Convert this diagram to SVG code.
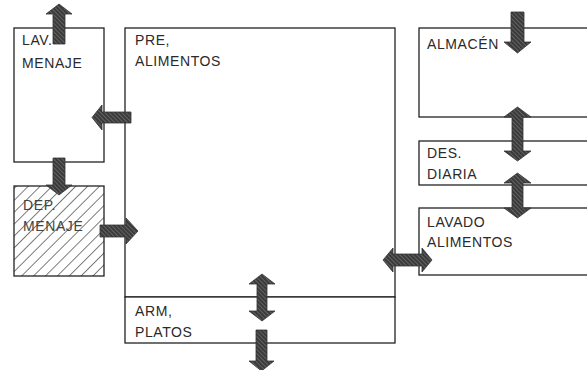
<svg xmlns="http://www.w3.org/2000/svg" width="587" height="370" viewBox="0 0 587 370">
<defs>
<pattern id="arrowFill" patternUnits="userSpaceOnUse" width="3" height="3" patternTransform="rotate(-45)">
<rect width="3" height="3" fill="#3a3a3a"/>
<line x1="0" y1="0" x2="0" y2="3" stroke="#8a8a8a" stroke-width="1"/>
</pattern>
<pattern id="hatch" patternUnits="userSpaceOnUse" width="8.4" height="8.4" patternTransform="rotate(45)">
<line x1="0" y1="0" x2="0" y2="8.4" stroke="#111" stroke-width="1.1"/>
</pattern>
</defs>
<style>
.box{fill:#fff;stroke:#222;stroke-width:1.3}
.hatched{fill:url(#hatch);stroke:#222;stroke-width:1.3}
.lbl{font-family:"Liberation Sans",Arial,sans-serif;font-size:14px;letter-spacing:0.6px;fill:#2a2a2a}
.lblg{font-family:"Liberation Sans",Arial,sans-serif;font-size:14px;letter-spacing:0.6px;fill:#444}
.arr{fill:url(#arrowFill);stroke:#333;stroke-width:0.8;stroke-linejoin:miter}
</style>
<rect width="587" height="370" fill="#fff"/>

<g id="lav-menaje">
<rect class="box" x="14" y="28" width="90" height="134"/>
<text class="lbl" x="22" y="45">LAV.</text>
<text class="lbl" x="22" y="68">MENAJE</text>
</g>

<g id="dep-menaje">
<rect fill="#fff" x="14" y="186" width="90" height="90"/>
<rect class="hatched" x="14" y="186" width="90" height="90"/>
<text class="lblg" x="23" y="210">DEP.</text>
<text class="lblg" x="23" y="231">MENAJE</text>
</g>

<g id="pre-alimentos">
<rect class="box" x="125" y="28" width="270" height="269"/>
<text class="lbl" x="135" y="45">PRE,</text>
<text class="lbl" x="135" y="66">ALIMENTOS</text>
</g>

<g id="arm-platos">
<rect class="box" x="125" y="297" width="270" height="46"/>
<text class="lbl" x="135" y="316">ARM,</text>
<text class="lbl" x="135" y="337">PLATOS</text>
</g>

<g id="almacen">
<rect class="box" x="419" y="28" width="190" height="89"/>
<text class="lbl" x="427" y="49">ALMACÉN</text>
</g>

<g id="des-diaria">
<rect class="box" x="419" y="141" width="190" height="44"/>
<text class="lbl" x="427" y="158">DES.</text>
<text class="lbl" x="427" y="179">DIARIA</text>
</g>

<g id="lavado-alimentos">
<rect class="box" x="419" y="208" width="190" height="67"/>
<text class="lbl" x="427" y="227">LAVADO</text>
<text class="lbl" x="427" y="247">ALIMENTOS</text>
</g>

<g id="connectors">
<path class="arr" d="M53,44 L53,14 L46,14 L59,4 L72,14 L65,14 L65,44 Z"/>
<path class="arr" d="M131,112 L102,112 L102,105 L92,117.5 L102,130 L102,123 L131,123 Z"/>
<path class="arr" d="M53,158 L65,158 L65,185 L72,185 L59,195 L46,185 L53,185 Z"/>
<path class="arr" d="M100,225 L126,225 L126,218 L138,231 L126,244 L126,237 L100,237 Z"/>
<path class="arr" d="M511,12 L524,12 L524,42 L531,42 L517.5,53 L504,42 L511,42 Z"/>
<path class="arr" d="M517.5,107 L531,117 L523,117 L523,151 L531,151 L517.5,161 L504,151 L512,151 L512,117 L504,117 Z"/>
<path class="arr" d="M517.5,173 L531,183 L523,183 L523,208 L531,208 L517.5,218 L504,208 L512,208 L512,183 L504,183 Z"/>
<path class="arr" d="M383,260 L393,248 L393,254 L422,254 L422,248 L432,260 L422,272 L422,266 L393,266 L393,272 Z"/>
<path class="arr" d="M262,274 L275,284 L267,284 L267,311 L275,311 L262,321 L249,311 L257,311 L257,284 L249,284 Z"/>
<path class="arr" d="M256,330 L267,330 L267,361 L274,361 L261.5,371 L249,361 L256,361 Z"/>
</g>
</svg>
